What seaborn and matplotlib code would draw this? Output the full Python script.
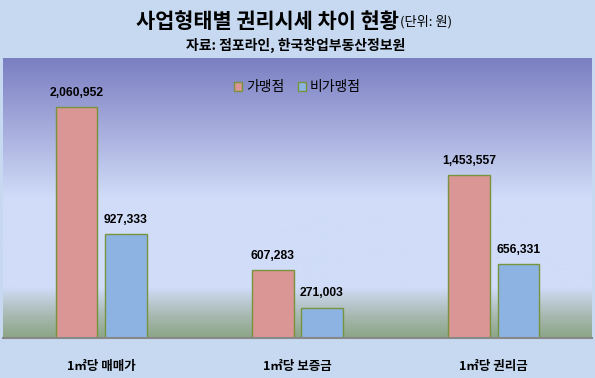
import numpy as np
import pandas as pd
import seaborn as sns
import matplotlib.pyplot as plt
from matplotlib.colors import LinearSegmentedColormap

# chart data
categories = ['1㎡당 매매가', '1㎡당 보증금', '1㎡당 권리금']
franchise = [2060952, 607283, 1453557]
non_franchise = [927333, 271003, 656331]
series_names = ['가맹점', '비가맹점']

title_main = '사업형태별 권리시세 차이 현황'
title_unit = '(단위: 원)'
subtitle = '자료: 점포라인, 한국창업부동산정보원'


def main():
    sns.set_theme(style='white')
    plt.rcParams['font.family'] = ['Noto Sans CJK KR', 'DejaVu Sans']
    plt.rcParams['text.color'] = 'black'
    plt.rcParams['xtick.color'] = 'black'

    df = pd.DataFrame({
        'category': categories * 2,
        'value': franchise + non_franchise,
        'type': [series_names[0]] * 3 + [series_names[1]] * 3,
    })

    fig = plt.figure(figsize=(5.95, 3.78), dpi=100)
    fig.patch.set_facecolor('#c6d9f0')
    pos = [3 / 595, 1 - 338 / 378, 589 / 595, 280 / 378]

    # gradient background behind the plot area
    bg = fig.add_axes(pos, zorder=0)
    cmap = LinearSegmentedColormap.from_list('bg', [
        (0.0, '#8ca586'), (0.08, '#a9b9b2'), (0.18, '#d0dcf8'),
        (0.5, '#d0dcf8'), (0.75, '#a6acdc'), (1.0, '#7a7fc2')])
    grad = np.linspace(1, 0, 256).reshape(-1, 1)
    bg.imshow(grad, aspect='auto', cmap=cmap, extent=[0, 1, 0, 1])
    bg.set_axis_off()

    ax = fig.add_axes(pos, zorder=1)
    ax.set_facecolor('none')
    sns.barplot(data=df, x='category', y='value', hue='type',
                palette=['#da9694', '#8db3e2'], edgecolor='#77933c',
                linewidth=1, width=0.5, gap=0.15, saturation=1, ax=ax)

    for cont in ax.containers:
        ax.bar_label(cont, labels=[f'{v:,.0f}' for v in cont.datavalues],
                     padding=6, fontsize=8.7, fontweight='bold',
                     family=['Liberation Sans'])

    ax.set_xlim(-0.5, 2.5)
    ax.set_ylim(0, 2500000)
    ax.set_yticks([])
    ax.set_xlabel('')
    ax.set_ylabel('')
    for s in ['top', 'left', 'right']:
        ax.spines[s].set_visible(False)
    ax.spines['bottom'].set_color('#888888')
    ax.spines['bottom'].set_linewidth(1.5)
    ax.tick_params(axis='x', length=0, pad=16)
    for t in ax.get_xticklabels():
        t.set_fontsize(9)
        t.set_fontweight('bold')

    leg = ax.legend(loc='center', bbox_to_anchor=(0.5, 0.895), ncol=2,
                    frameon=False, fontsize=10, handlelength=0.6,
                    handleheight=0.6, handletextpad=0.25, columnspacing=1.0)
    for t in leg.get_texts():
        t.set_fontweight('medium')

    fig.text(399 / 595, 1 - 21 / 378, title_main, ha='right', va='center',
             fontsize=15, fontweight='bold')
    fig.text(400 / 595, 1 - 22 / 378, title_unit, ha='left', va='center',
             fontsize=9.5)
    fig.text(296 / 595, 1 - 45 / 378, subtitle, ha='center', va='center',
             fontsize=10, fontweight='bold')

    fig.savefig('out.png', dpi=100, facecolor=fig.get_facecolor())


if __name__ == '__main__':
    main()
